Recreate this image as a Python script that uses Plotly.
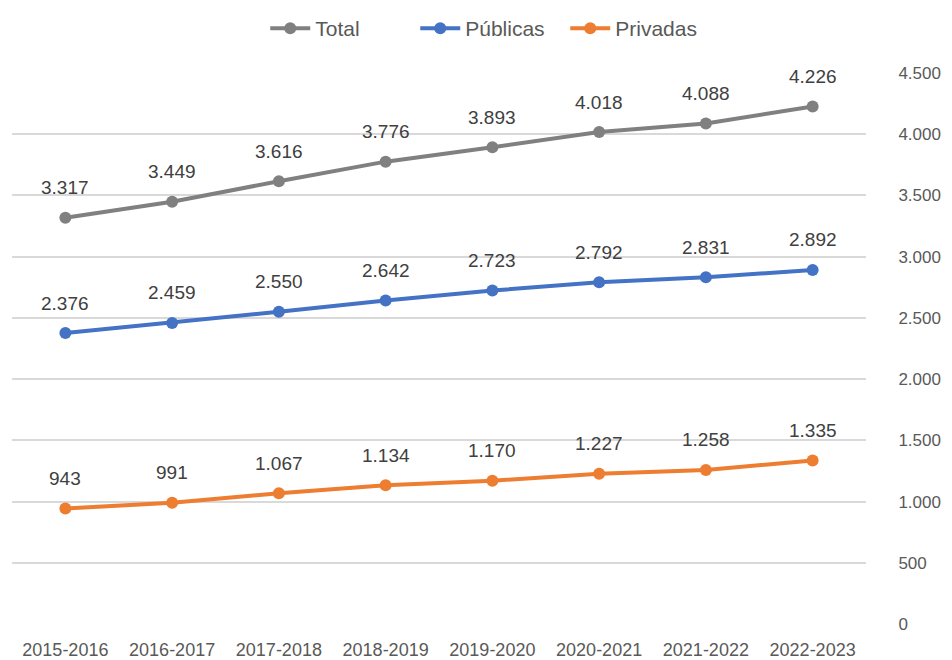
import plotly.graph_objects as go

categories = ["2015-2016", "2016-2017", "2017-2018", "2018-2019",
              "2019-2020", "2020-2021", "2021-2022", "2022-2023"]
total = [3317, 3449, 3616, 3776, 3893, 4018, 4088, 4226]
publicas = [2376, 2459, 2550, 2642, 2723, 2792, 2831, 2892]
privadas = [943, 991, 1067, 1134, 1170, 1227, 1258, 1335]
y_ticks = [0, 500, 1000, 1500, 2000, 2500, 3000, 3500, 4000, 4500]

FONT = "Liberation Sans"

def fmt(v):
    return f"{v:,}".replace(",", ".")

series = [("Total", total, "#808080"),
          ("Públicas", publicas, "#4472C4"),
          ("Privadas", privadas, "#ED7D31")]

fig = go.Figure()
annotations = []
for name, vals, color in series:
    fig.add_trace(go.Scatter(
        x=categories, y=vals, name=name, mode="lines+markers",
        line=dict(color=color, width=4),
        marker=dict(color=color, size=12),
    ))
    for c, v in zip(categories, vals):
        annotations.append(dict(
            x=c, y=v, text=fmt(v), showarrow=False, yshift=30,
            font=dict(family=FONT, size=19, color="#404040"),
        ))

fig.update_layout(
    width=944, height=652,
    margin=dict(l=4, r=86, t=65, b=36),
    paper_bgcolor="white", plot_bgcolor="white",
    separators=",.",
    font=dict(family=FONT, size=18, color="#595959"),
    showlegend=True,
    legend=dict(orientation="h", x=0.56, xanchor="center", y=1.0, yanchor="top",
                yref="container", font=dict(family=FONT, size=21, color="#595959"),
                itemwidth=40, traceorder="normal", entrywidth=95),
    annotations=annotations,
    xaxis=dict(showgrid=False, zeroline=False, showline=False, automargin=False,
               ticks="outside", ticklen=9, tickcolor="rgba(0,0,0,0)",
               tickfont=dict(family=FONT, size=18, color="#595959"),
               range=[-0.5, 7.5]),
    yaxis=dict(side="right", range=[0, 4500], tickvals=y_ticks,
               ticktext=[fmt(v) for v in y_ticks], automargin=False,
               showgrid=True, gridcolor="#D9D9D9", gridwidth=2,
               zeroline=False, showline=False,
               ticks="outside", ticklen=28, tickcolor="rgba(0,0,0,0)",
               tickfont=dict(family=FONT, size=17, color="#595959")),
)

fig.write_html("out.html")
